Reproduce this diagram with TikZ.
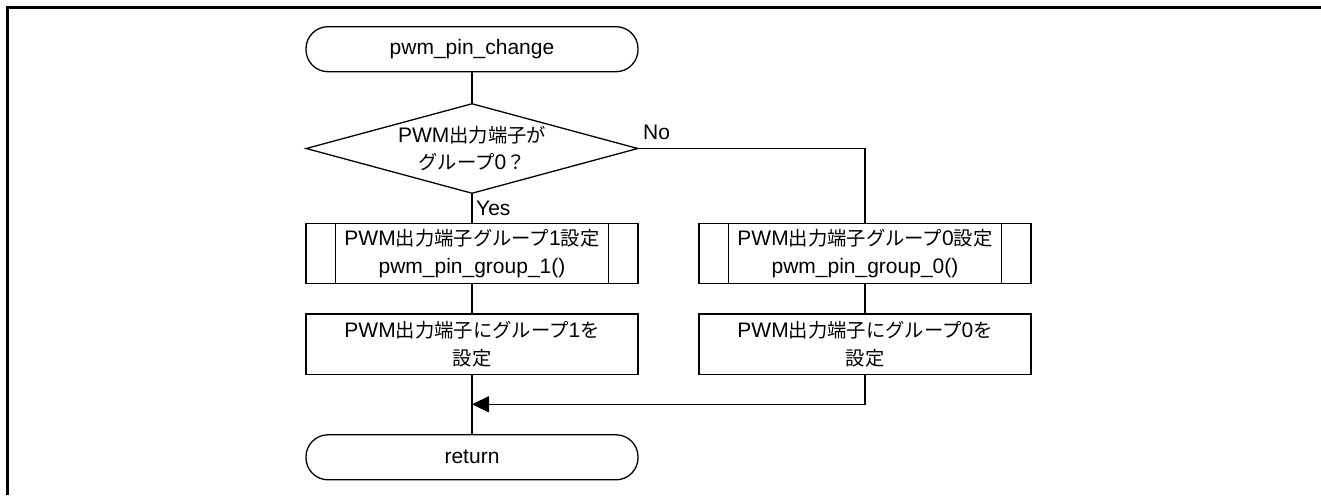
\documentclass[tikz,border=0pt]{standalone}
\usepackage{fontspec}
\setmainfont{Liberation Sans}
\newfontfamily\jp{Noto Sans CJK JP}[Scale=0.92]
\usetikzlibrary{shapes.geometric,arrows.meta}

\tikzset{
  flow/.style={line width=1.3pt, draw=black},
  txt/.style={font=\fontsize{21}{27.5}\selectfont, align=center},
  terminal/.style={flow, txt, rectangle, rounded corners=22pt,
    minimum width=332pt, minimum height=45pt, inner sep=0pt},
  decision/.style={flow, diamond, minimum width=332pt, minimum height=90pt,
    inner sep=0pt},
  process/.style={flow, txt, rectangle, minimum width=332pt,
    minimum height=60.5pt, inner sep=0pt},
  subproc/.style={process, append after command={
      ([xshift=30pt]\tikzlastnode.north west) edge[flow]
      ([xshift=30pt]\tikzlastnode.south west)
      ([xshift=-30pt]\tikzlastnode.north east) edge[flow]
      ([xshift=-30pt]\tikzlastnode.south east)}},
  lbl/.style={font=\fontsize{21}{24}\selectfont, inner sep=0pt},
  conn/.style={flow},
  tip/.style={flow, -{Triangle[length=17pt,width=16pt]}}
}

\begin{document}
\begin{tikzpicture}[x=1pt,y=-1pt]
  \useasboundingbox (0,0) rectangle (1321,495);

  % outer frame edges
  \draw[line width=2.5pt] (7.3,495) -- (7.3,7.3) -- (1321,7.3);

  % shapes
  \node[terminal] (start) at (472,49.2) {pwm\_pin\_change};
  \node[decision,
    label={[txt]center:PWM{\jp 出力端子が}\\{\jp グループ}0{\jp ？}}]
    (dec) at (472,148.5) {};
  \node[subproc] (sub1) at (472,253.5)
    {PWM{\jp 出力端子グループ}1{\jp 設定}\\pwm\_pin\_group\_1()};
  \node[subproc] (sub2) at (865,253.5)
    {PWM{\jp 出力端子グループ}0{\jp 設定}\\pwm\_pin\_group\_0()};
  \node[process] (proc1) at (472,344.2)
    {PWM{\jp 出力端子にグループ}1{\jp を}\\{\jp 設定}};
  \node[process] (proc2) at (865,344.2)
    {PWM{\jp 出力端子にグループ}0{\jp を}\\{\jp 設定}};
  \node[terminal] (ret) at (472,457.3) {return};
  \coordinate (merge) at (472,404.3);

  % branch labels
  \node[lbl, anchor=west] (yes) at (476,208) {Yes};
  \node[lbl, anchor=west] (no) at (643,132) {No};

  % connectors
  \draw[conn] (start) -- (dec);
  \draw[conn] (dec) -- (sub1);
  \draw[conn] (dec.east) -| (sub2.north);
  \draw[conn] (sub1) -- (proc1);
  \draw[conn] (sub2) -- (proc2);
  \draw[conn] (proc1) -- (ret);
  \draw[tip] (proc2.south) |- (merge);
\end{tikzpicture}
\end{document}
